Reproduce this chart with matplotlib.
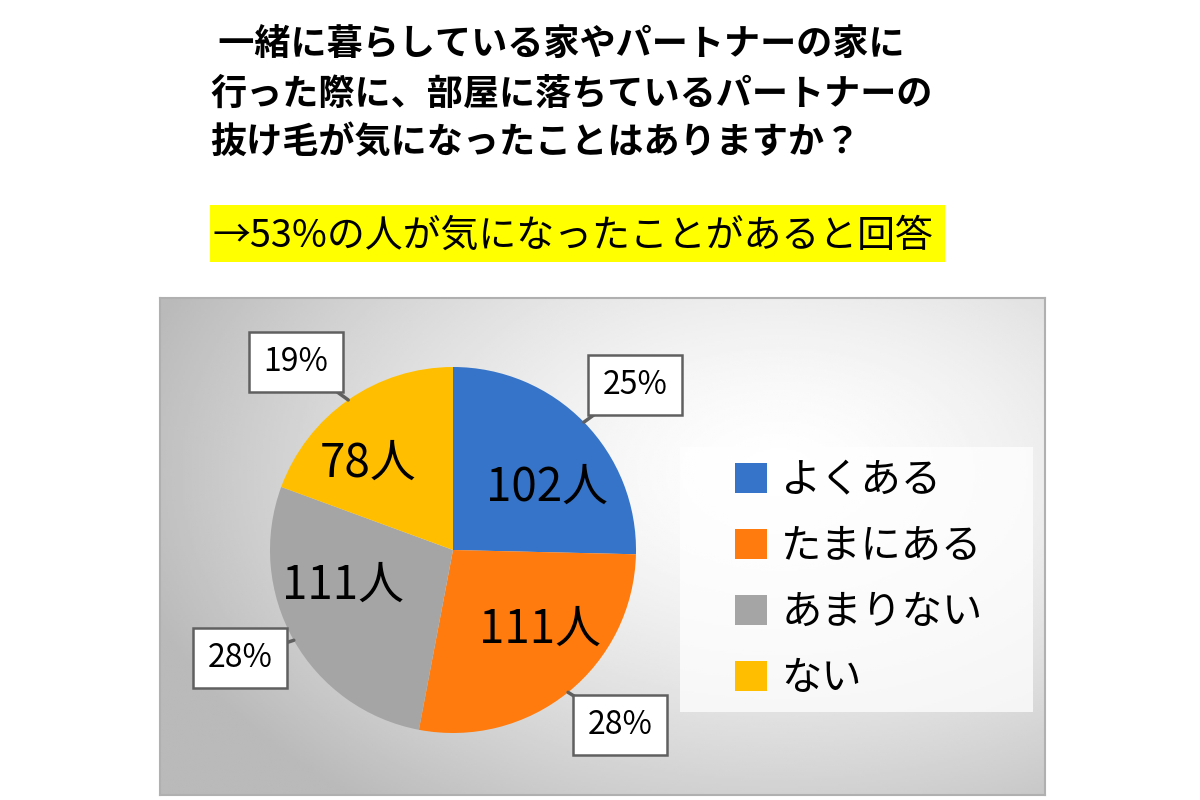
import numpy as np
import matplotlib.pyplot as plt
from matplotlib.patches import Rectangle

plt.rcParams['font.family'] = ['Noto Sans CJK JP', 'DejaVu Sans']

# data
labels = ['よくある', 'たまにある', 'あまりない', 'ない']
counts = [102, 111, 111, 78]
pcts = ['25%', '28%', '28%', '19%']
colors = ['#3574C8', '#FF7B0D', '#A5A5A5', '#FFBF00']

title_lines = [' 一緒に暮らしている家やパートナーの家に',
               '行った際に、部屋に落ちているパートナーの',
               '抜け毛が気になったことはありますか？']
subtitle = '→53%の人が気になったことがあると回答'

W, H = 1200, 800
fig = plt.figure(figsize=(12, 8), dpi=100)
fig.patch.set_facecolor('white')

# grey panel with radial gradient
px0, px1, py0, py1 = 160, 1045, 298, 795
bg = fig.add_axes([px0 / W, 1 - py1 / H, (px1 - px0) / W, (py1 - py0) / H], zorder=0)
gx, gy = np.meshgrid(np.linspace(0, 1, 400), np.linspace(0, 1, 250))
d = np.sqrt(((gx - 0.7) / 0.75) ** 2 + ((gy - 0.35) / 0.85) ** 2)
val = 1.0 - 0.27 * np.clip(d, 0, 1) ** 1.5
bg.imshow(val, cmap='gray', vmin=0, vmax=1, aspect='auto', extent=(0, 1, 1, 0))
bg.set_xticks([])
bg.set_yticks([])
for s in bg.spines.values():
    s.set_color('#b0b0b0')
    s.set_linewidth(1.5)

# pie
cx, cy, r = 453, 550, 183
pax = fig.add_axes([(cx - r) / W, 1 - (cy + r) / H, 2 * r / W, 2 * r / H], zorder=1)
wedges, _ = pax.pie(counts, colors=colors, startangle=90, counterclock=False,
                    radius=1, wedgeprops=dict(linewidth=0))
pax.set_xlim(-1, 1)
pax.set_ylim(-1, 1)
pax.set_aspect('equal')
pax.axis('off')

# overlay in pixel coords
ov = fig.add_axes([0, 0, 1, 1], zorder=2)
ov.set_xlim(0, W)
ov.set_ylim(H, 0)
ov.axis('off')
ov.patch.set_alpha(0)

# title
for i, line in enumerate(title_lines):
    ov.text(210, 45 + i * 49, line, fontsize=26, fontweight='bold',
            ha='left', va='center', color='black')

ov.add_patch(Rectangle((210, 205), 735, 57, facecolor='#FFFF00', edgecolor='none'))
ov.text(212, 236, subtitle, fontsize=27.3, ha='left', va='center', color='black')

# count labels inside wedges
label_xy = [(547, 487), (540, 630), (343, 585), (368, 463)]
for k, c in enumerate(counts):
    ov.text(label_xy[k][0], label_xy[k][1], f'{c}人', fontsize=33,
            ha='center', va='center', color='black')

# percentage callouts, pointer tip on the wedge's mid angle
total = sum(counts)
cum = 0
box_pos = [(635, 385), (620, 725), (240, 658), (296, 362)]
for k, (bx, by) in enumerate(box_pos):
    ang = np.deg2rad(90 - 360 * (cum + counts[k] / 2) / total)
    cum += counts[k]
    tx = cx + r * np.cos(ang)
    ty = cy - r * np.sin(ang)
    ov.annotate('', xy=(tx, ty), xytext=(bx, by),
                arrowprops=dict(arrowstyle='-', color='#606060', lw=2.5,
                                shrinkA=0, shrinkB=0))
    ov.text(bx, by, pcts[k], fontsize=23, ha='center', va='center', color='black',
            bbox=dict(boxstyle='square,pad=0.45', facecolor='white',
                      edgecolor='#606060', linewidth=1.8))

# legend
ov.add_patch(Rectangle((680, 447), 353, 265, facecolor='white', alpha=0.75,
                       edgecolor='none'))
leg = ov.legend(wedges, labels, loc='upper left',
                bbox_to_anchor=(735 / W, 1 - 460 / H), bbox_transform=fig.transFigure,
                fontsize=29, frameon=False, handlelength=0.8, handleheight=0.8,
                handletextpad=0.35, labelspacing=0.62, borderpad=0,
                borderaxespad=0)

fig.savefig('out.png', dpi=100)
